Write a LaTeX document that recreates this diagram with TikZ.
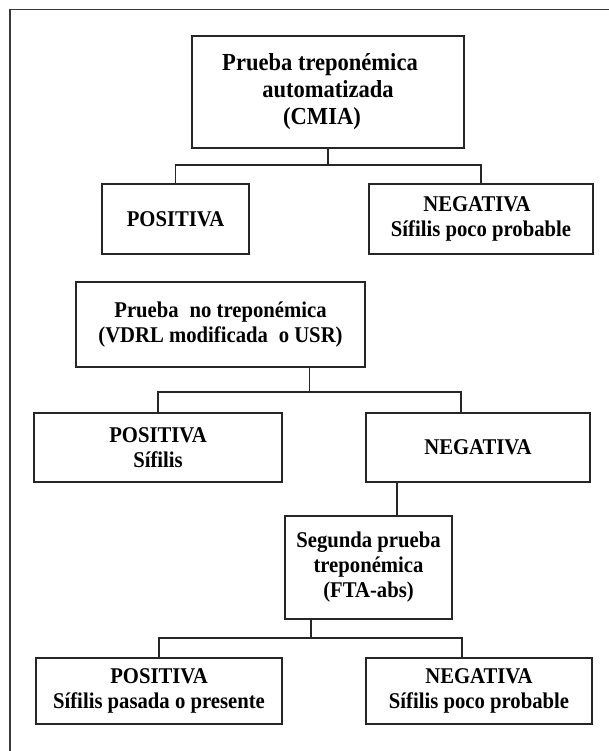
\documentclass[tikz,border=0pt]{standalone}
\usepackage{fontspec}
\setmainfont{Liberation Serif}[FakeStretch=0.92]
\definecolor{linec}{HTML}{262626}
\definecolor{framec}{HTML}{3A3A3A}
\begin{document}
\begin{tikzpicture}[x=1pt,y=-1pt,
  box/.style={draw=linec, line width=1.4pt, inner sep=0pt, align=center,
    text=black, font=\fontsize{22.5}{25}\selectfont\bfseries},
  conn/.style={draw=linec, line width=1.1pt}]
\useasboundingbox (0,0) rectangle (609,751);
% outer frame (only top and left visible)
\draw[line width=1.6pt, draw=framec] (10,760) -- (10,9.5) -- (620,9.5);

% boxes
\node[box, minimum width=272pt, minimum height=112pt,
      font=\fontsize{24.5}{27}\selectfont\bfseries] (b1) at (328,92)
  {Prueba treponémica\hspace*{16pt}\\automatizada\hspace*{16pt}\\(CMIA)\hspace*{12pt}};
\node[box, minimum width=147pt, minimum height=70pt] (b2) at (175.5,219) {POSITIVA};
\node[box, minimum width=224pt, minimum height=70pt] (b3) at (481,219)
  {NEGATIVA\hspace*{8pt}\\Sífilis poco probable};
\node[box, minimum width=289pt, minimum height=85pt] (b4) at (220.5,324.5)
  {Prueba\hspace{0.25em} no treponémica\\(VDRL modificada\hspace{0.25em} o USR)};
\node[box, minimum width=248pt, minimum height=69pt] (b5) at (158,447.5)
  {POSITIVA\\Sífilis};
\node[box, minimum width=224pt, minimum height=69pt] (b6) at (478,447.5) {NEGATIVA};
\node[box, minimum width=167pt, minimum height=103pt] (b7) at (368.5,567.5)
  {Segunda prueba\\treponémica\\(FTA-abs)};
\node[box, minimum width=246pt, minimum height=66pt] (b8) at (159,691)
  {POSITIVA\\Sífilis pasada o presente};
\node[box, minimum width=226pt, minimum height=66pt] (b9) at (479,691)
  {NEGATIVA\\Sífilis poco probable};

% junction points
\coordinate (j1) at (328,165);
\coordinate (j2) at (309.5,392);
\coordinate (d6) at (461,392);
\coordinate (v6) at (397,500);
\coordinate (j4) at (311,638);
\coordinate (d9) at (462,638);

% connectors
\draw[conn] (b1.south) -- (j1);
\draw[conn] (b2.north) |- (j1) -| (b3.north);
\draw[conn] (b4.south -| j2) -- (j2);
\draw[conn] (b5.north) |- (d6) -- (d6 |- b6.north);
\draw[conn] (b6.south -| v6) -- (b7.north -| v6);
\draw[conn] (b7.south -| j4) -- (j4);
\draw[conn] (b8.north) |- (d9) -- (d9 |- b9.north);
\end{tikzpicture}
\end{document}
